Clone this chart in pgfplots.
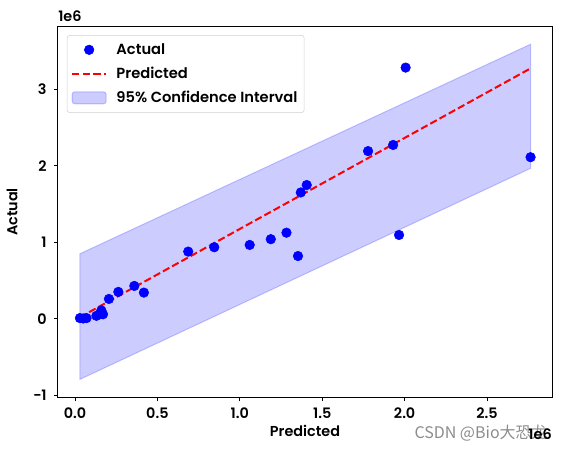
\documentclass[border=0pt]{standalone}
\usepackage{fontspec}
\setmainfont{Poppins SemiBold}
\newfontfamily\cjk{Noto Sans CJK SC}
\usepackage{pgfplots}
\pgfplotsset{compat=1.18}
\begin{document}
\begin{tikzpicture}
\begin{axis}[
  scale only axis, width=370.5pt, height=277.5pt,
  xmin=-0.103, xmax=2.894, ymin=-1.02, ymax=3.81,
  xtick={0,0.5,1,1.5,2,2.5}, xticklabels={0.0,0.5,1.0,1.5,2.0,2.5},
  ytick={-1,0,1,2,3}, yticklabels={−1,0,1,2,3},
  tick align=outside, xtick pos=bottom, ytick pos=left,
  major tick length=3pt, tick style={black, line width=0.6pt},
  axis line style={line width=0.75pt},
  ticklabel style={font=\fontsize{10.8}{13}\selectfont},
  xticklabel style={yshift=-1.5pt},
  yticklabel style={xshift=-2pt},
  /pgf/number format/assume math mode=true,
  xlabel={Predicted}, ylabel={Actual},
  label style={font=\fontsize{10.8}{13}\selectfont},
  xlabel style={yshift=2pt},
  ylabel style={yshift=5pt},
  legend cell align=left,
  legend style={at={(0.018,0.978)}, anchor=north west, draw=black!18, rounded corners=2pt,
    font=\fontsize{11}{13}\selectfont, row sep=4pt, inner xsep=3pt, inner ysep=4pt,
    column sep=5pt},
  clip=false,
]
\coordinate (bl) at (rel axis cs:0,0);
\coordinate (tr) at (rel axis cs:1,1);
\addplot[forget plot, fill=blue, fill opacity=0.2, draw=blue, draw opacity=0.2, line width=0.75pt]
coordinates {(0.03,-0.79) (2.764,1.965) (2.764,3.585) (0.03,0.85)} -- cycle;
\addplot[only marks, mark=*, mark size=3.6pt, blue, draw=blue, fill=blue,
  legend image code/.code={\fill[blue] (12.75pt,0pt) circle (3.6pt);}]
coordinates {
(0.03,0.01) (0.05,0.005) (0.07,0.01) (0.13,0.04) (0.15,0.06) (0.16,0.11) (0.17,0.06)
(0.206,0.26) (0.263,0.352) (0.36,0.43) (0.418,0.343)
(0.687,0.878) (0.845,0.935) (1.06,0.965) (1.188,1.04) (1.283,1.125) (1.353,0.82)
(1.37,1.65) (1.406,1.747) (1.778,2.19) (1.93,2.27) (1.966,1.095) (2.006,3.28) (2.764,2.11)
};
\addlegendentry{Actual}
\addplot[red, line width=1.5pt, dash pattern=on 5.5pt off 2.4pt,
  legend image code/.code={\draw[red, line width=1.5pt, dash pattern=on 5.5pt off 2.4pt] (0pt,0pt) -- (25.5pt,0pt);}]
coordinates {(0.03,0.021) (2.764,3.27)};
\addlegendentry{Predicted}
\addlegendimage{legend image code/.code={\draw[fill=blue, fill opacity=0.2, draw=blue, draw opacity=0.2, line width=0.75pt] (0pt,-4.5pt) rectangle (25.5pt,4.5pt);}}
\addlegendentry{95\% Confidence Interval}
\node[anchor=south west, inner sep=0pt, font=\fontsize{10.8}{13}\selectfont] at (rel axis cs:0,1) [yshift=4pt] {1e6};
\node[anchor=east, text=black!45, font=\cjk\fontsize{12}{14}\selectfont, inner sep=0pt] at (rel axis cs:1,-0.097) [xshift=-3pt] {CSDN @Bio大恐龙};
\node[anchor=base east, inner sep=0pt, font=\fontsize{10.8}{13}\selectfont] at (rel axis cs:1,-0.115) {1e6};
\end{axis}
\pgfresetboundingbox
\path ([shift={(-43.5pt,-42pt)}]bl) rectangle ([shift={(8.25pt,20.25pt)}]tr);
\end{tikzpicture}
\end{document}
